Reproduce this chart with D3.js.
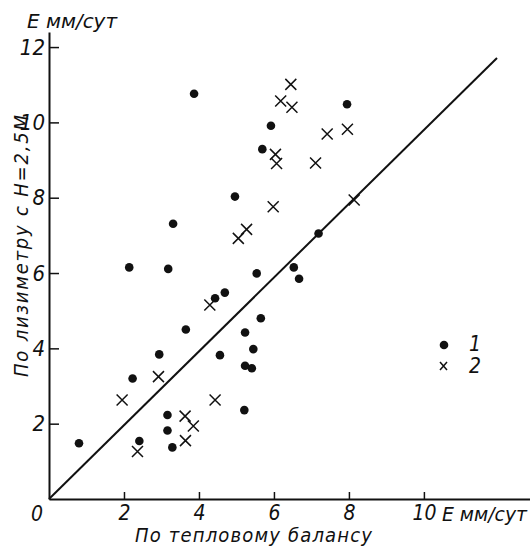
<!DOCTYPE html>
<html>
<head>
<meta charset="utf-8">
<script src="https://cdn.jsdelivr.net/npm/d3@7"></script>
<style>
	body { margin: 0; background: #fff; }
	text { font-family: "DejaVu Sans", sans-serif; font-style: italic; font-stretch: condensed; fill: #111; }
</style>
</head>
<body>
<svg id="chart" width="530" height="546"></svg>
<script>
(function(){

	// series 1 (dots)
	var dotsX = [3.87, 5.92, 5.69, 4.96, 3.31, 2.14, 3.18, 5.54, 7.95, 7.19, 6.53, 6.67, 4.43, 4.69, 3.65,
		5.65, 5.23, 2.94, 4.56, 5.45, 5.23, 5.41, 2.23, 5.21, 3.16, 3.16, 3.29, 2.41, 0.80];
	var dotsY = [10.76, 9.91, 9.29, 8.03, 7.31, 6.15, 6.11, 5.99, 10.48, 7.05, 6.15, 5.85, 5.33, 5.48, 4.50,
		4.80, 4.42, 3.84, 3.82, 3.98, 3.54, 3.47, 3.20, 2.36, 2.23, 1.82, 1.37, 1.54, 1.48];
	// series 2 (crosses)
	var crossX = [6.45, 6.18, 6.48, 7.96, 7.42, 6.04, 6.07, 7.11, 5.98, 8.14, 5.05, 5.27, 4.29, 2.92, 1.95,
		4.43, 3.63, 3.85, 3.64, 2.36];
	var crossY = [11.01, 10.57, 10.40, 9.82, 9.69, 9.15, 8.91, 8.92, 7.76, 7.94, 6.92, 7.16, 5.15, 3.25, 2.63,
		2.63, 2.20, 1.94, 1.55, 1.26];
	// 1:1 line
	var lineX = [0, 11.95];
	var lineY = [0, 11.71];

	var xTicks = [2, 4, 6, 8, 10];
	var yTicks = [2, 4, 6, 8, 10, 12];
	var legendLabels = ["1", "2"];

	var svg = d3.select("#chart");

	var x = d3.scaleLinear().domain([0, 12.83]).range([49, 530]);
	var y = d3.scaleLinear().domain([0, 12.4]).range([499, 32]);

	// x axis
	var gx = svg.append("g")
		.attr("transform", "translate(0," + y(0) + ")")
		.call(d3.axisBottom(x).tickValues(xTicks).tickSizeInner(-7).tickSizeOuter(0));
	gx.select(".domain").attr("stroke", "#111").attr("stroke-width", 2);
	gx.selectAll(".tick line").attr("stroke", "#111").attr("stroke-width", 1.5);
	gx.selectAll(".tick text").attr("font-size", 21).attr("font-family", null)
		.attr("y", 21).attr("dy", null);

	// y axis
	var gy = svg.append("g")
		.attr("transform", "translate(" + x(0) + ",0)")
		.call(d3.axisLeft(y).tickValues(yTicks).tickSizeInner(-10).tickSizeOuter(0).tickPadding(4));
	gy.select(".domain").attr("stroke", "#111").attr("stroke-width", 2);
	gy.selectAll(".tick line").attr("stroke", "#111").attr("stroke-width", 1.5);
	gy.selectAll(".tick text").attr("font-size", 22).attr("font-family", null);

	svg.append("text").attr("x", 37).attr("y", 521).attr("font-size", 21).attr("text-anchor", "middle").text("0");
	svg.append("text").attr("x", 442).attr("y", 521).attr("font-size", 20)
		.attr("textLength", 85).attr("lengthAdjust", "spacingAndGlyphs").text("E мм/сут");
	svg.append("text").attr("x", 27).attr("y", 28).attr("font-size", 20)
		.attr("textLength", 90).attr("lengthAdjust", "spacingAndGlyphs").text("E мм/сут");

	svg.append("text").attr("x", 135).attr("y", 542).attr("font-size", 20)
		.attr("textLength", 237).attr("lengthAdjust", "spacing").text("По тепловому балансу");
	svg.append("text").attr("transform", "translate(28,377) rotate(-90)").attr("font-size", 20)
		.attr("textLength", 262).attr("lengthAdjust", "spacing").text("По лизиметру с H=2,5М");

	// 1:1 line
	svg.append("line")
		.attr("x1", x(lineX[0])).attr("y1", y(lineY[0]))
		.attr("x2", x(lineX[1])).attr("y2", y(lineY[1]))
		.attr("stroke", "#111").attr("stroke-width", 2);

	// dots
	svg.append("g").selectAll("circle")
		.data(d3.range(dotsX.length))
		.enter().append("circle")
			.attr("cx", function(i){ return x(dotsX[i]); })
			.attr("cy", function(i){ return y(dotsY[i]); })
			.attr("r", 4.3)
			.attr("fill", "#111");

	// crosses
	var s = 5.5;
	svg.append("g").selectAll("path")
		.data(d3.range(crossX.length))
		.enter().append("path")
			.attr("d", function(i){
				var cx = x(crossX[i]), cy = y(crossY[i]);
				return "M" + (cx - s) + "," + (cy - s) + "L" + (cx + s) + "," + (cy + s) +
					"M" + (cx - s) + "," + (cy + s) + "L" + (cx + s) + "," + (cy - s);
			})
			.attr("stroke", "#111").attr("stroke-width", 1.5).attr("fill", "none");

	// legend
	var lg = svg.append("g");
	lg.append("circle").attr("cx", 444).attr("cy", 345).attr("r", 4.3).attr("fill", "#111");
	lg.append("path").attr("d", "M440,362L447,370M440,370L447,362")
		.attr("stroke", "#111").attr("stroke-width", 1.5);
	lg.selectAll("text.lab")
		.data(legendLabels)
		.enter().append("text")
			.attr("class", "lab")
			.attr("x", 469)
			.attr("y", function(d, i){ return 351 + i * 22; })
			.attr("font-size", 21)
			.text(function(d){ return d; });

})();
</script>
</body>
</html>
